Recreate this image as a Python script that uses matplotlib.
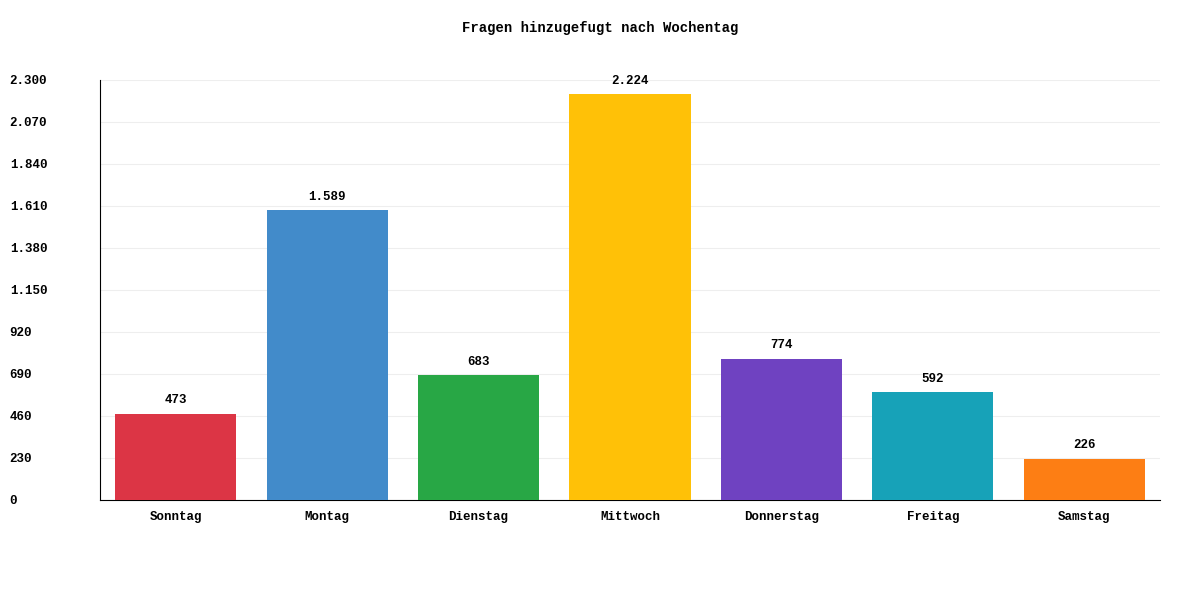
import matplotlib
matplotlib.use("Agg")
import matplotlib.pyplot as plt

days = ["Sonntag", "Montag", "Dienstag", "Mittwoch", "Donnerstag", "Freitag", "Samstag"]
counts = [473, 1589, 683, 2224, 774, 592, 226]
colors = ["#dc3545", "#428bca", "#28a745", "#ffc107", "#6f42c1", "#17a2b8", "#fd7e14"]
yticks = [0, 230, 460, 690, 920, 1150, 1380, 1610, 1840, 2070, 2300]


def fmt(v):
    return f"{v:,}".replace(",", ".")


plt.rcParams["font.family"] = ["Liberation Mono", "DejaVu Sans Mono"]
plt.rcParams["font.weight"] = "bold"

fig = plt.figure(figsize=(12, 6), dpi=100)
ax = fig.add_axes([100 / 1200, 100 / 600, 1060 / 1200, 420 / 600])

x = list(range(len(days)))
ax.bar(x, counts, width=0.8, color=colors, zorder=3)
for xi, v in zip(x, counts):
    ax.text(xi, v + 40, fmt(v), ha="center", va="bottom", fontsize=9, fontweight="bold")

ax.set_xlim(-0.5, len(days) - 0.5)
ax.set_ylim(0, 2300)
ax.set_yticks(yticks)
ax.set_yticklabels([fmt(t) for t in yticks], ha="left", fontsize=9, fontweight="bold")
ax.tick_params(axis="y", length=0, pad=65)
ax.set_xticks(x)
ax.set_xticklabels(days, fontsize=9, fontweight="bold")
ax.tick_params(axis="x", length=0, pad=8)
ax.grid(axis="y", color="#eeeeee", linewidth=0.8, zorder=0)
for s in ["top", "right"]:
    ax.spines[s].set_visible(False)

fig.text(0.5, 1 - 28 / 600, "Fragen hinzugefugt nach Wochentag", ha="center", va="center",
         fontsize=10, fontweight="bold")

fig.savefig("out.png", dpi=100)
